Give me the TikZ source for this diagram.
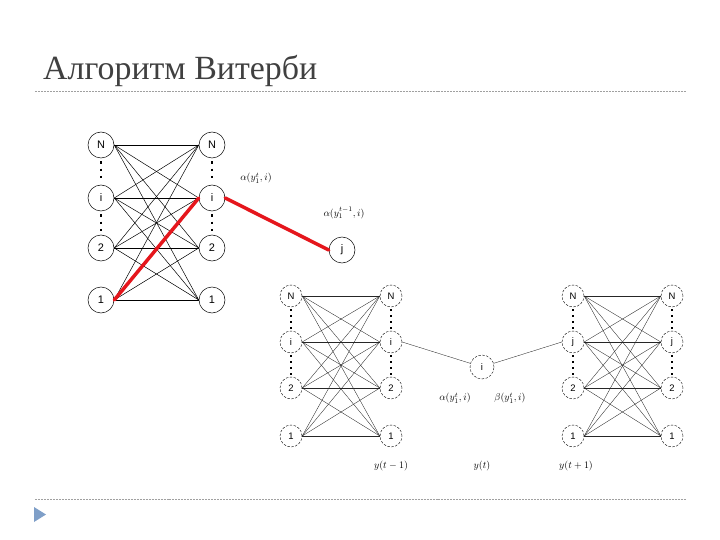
\documentclass[tikz,border=0pt]{standalone}
\usepackage{amsmath}
\usepackage{fontspec}
\setmainfont{Liberation Serif}
\newfontfamily\nodefont{Liberation Sans}
\usepackage{tikz}

\definecolor{titlegray}{HTML}{404040}
\definecolor{rulegray}{HTML}{A0A0A0}
\definecolor{bulletblue}{HTML}{7F9FC8}
\definecolor{pathred}{HTML}{E5161C}

\begin{document}
\begin{tikzpicture}[x=1bp,y=-1bp]

% Define styles for states, edges and the dotted gaps.
\tikzset{
  st/.style={circle,draw,line width=0.5pt,minimum size=26bp,inner sep=0pt,font=\nodefont\fontsize{11}{12}\selectfont},
  sb/.style={circle,draw,dash pattern=on 2.5pt off 1.5pt,line width=0.4pt,minimum size=22bp,inner sep=0pt,font=\nodefont\fontsize{9.5}{11}\selectfont},
  edge/.style={line width=0.5pt},
  edgeb/.style={line width=0.35pt,black!85},
  gap/.style={line width=2.4pt,dash pattern=on 2.4pt off 5pt,shorten <=3bp,shorten >=2bp},
  gapb/.style={line width=2pt,dash pattern=on 2pt off 4pt,shorten <=2bp,shorten >=2bp},
  lab/.style={font=\fontsize{10}{11}\selectfont,inner sep=0pt},
  best/.style={line width=3.5pt,color=pathred,line cap=round}
}

\useasboundingbox (0,0) rectangle (720,540);

% Title and rules.
\node[anchor=base west,inner sep=0pt,text=titlegray,font=\fontsize{34}{38}\selectfont] (title) at (43,80) {Алгоритм Витерби};
\draw[rulegray,line width=0.6pt,dash pattern=on 2pt off 1pt] (35,91) -- (686,91);
\draw[rulegray,line width=0.6pt,dash pattern=on 2pt off 1pt] (35,499) -- (686,499);
\fill[bulletblue] (34,507) -- (46,514.5) -- (34,522) -- cycle;

% Define columns and rows.
\def\ax{101}    %Left column, top lattice.
\def\bx{212}    %Right column, top lattice.
\def\px{291}    %Columns of the lower left lattice.
\def\qx{391}
\def\sx{573}    %Columns of the lower right lattice.
\def\tx{672}

% Top lattice
\foreach \n/\y in {N/145,i/198,2/248,1/300}{
  \node[st] (l\n) at (\ax,\y) {\n};
  \node[st] (r\n) at (\bx,\y) {\n};
}
\foreach \a in {N,i,2,1}
  \foreach \b in {N,i,2,1}
    \draw[edge] (l\a.east) -- (r\b.west);
\draw[gap] (lN) -- (li);
\draw[gap] (li) -- (l2);
\draw[gap] (rN) -- (ri);
\draw[gap] (ri) -- (r2);

\node[st] (j) at (342,250) {j};

% Best path.
\draw[best] (l1.east) -- (ri.west);
\draw[best] (ri.east) -- (j.west);

\node[lab] (alpha1) at (256,178) {$\alpha(y_1^t,i)$};
\node[lab] (alpha0) at (344,213) {$\alpha(y_1^{t-1},i)$};

% Lower left lattice
\foreach \n/\y in {N/296,i/342,2/388,1/436}{
  \node[sb] (p\n) at (\px,\y) {\n};
  \node[sb] (q\n) at (\qx,\y) {\n};
}
\foreach \a in {N,i,2,1}
  \foreach \b in {N,i,2,1}
    \draw[edgeb] (p\a.east) -- (q\b.west);
\draw[gapb] (pN) -- (pi);
\draw[gapb] (pi) -- (p2);
\draw[gapb] (qN) -- (qi);
\draw[gapb] (qi) -- (q2);

% Lower right lattice
\foreach \n/\y in {N/296,j/342,2/388,1/436}{
  \node[sb] (s\n) at (\sx,\y) {\n};
  \node[sb] (t\n) at (\tx,\y) {\n};
}
\foreach \a in {N,j,2,1}
  \foreach \b in {N,j,2,1}
    \draw[edgeb] (s\a.east) -- (t\b.west);
\draw[gapb] (sN) -- (sj);
\draw[gapb] (sj) -- (s2);
\draw[gapb] (tN) -- (tj);
\draw[gapb] (tj) -- (t2);

% Middle state
\node[sb,minimum size=24bp] (m) at (482,367) {i};
\draw[edgeb] (qi.east) -- (m);
\draw[edgeb] (m) -- (sj.west);

\node[lab] (alpham) at (455,398) {$\alpha(y_1^t,i)$};
\node[lab] (betam) at (510,398) {$\beta(y_1^t,i)$};

\node[lab] (tm) at (391,466) {$y(t-1)$};
\node[lab] (tt) at (482,466) {$y(t)$};
\node[lab] (tp) at (576,466) {$y(t+1)$};

\end{tikzpicture}
\end{document}
